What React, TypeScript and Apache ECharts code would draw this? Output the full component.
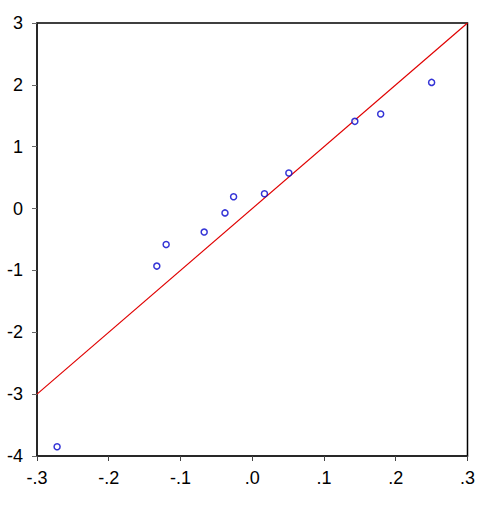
import React, { useEffect, useRef } from "react";
import * as echarts from "echarts";

const xValues = [-0.272, -0.133, -0.12, -0.067, -0.038, -0.026, 0.017, 0.051, 0.143, 0.179, 0.25];
const yValues = [-3.85, -0.93, -0.58, -0.38, -0.07, 0.19, 0.24, 0.575, 1.41, 1.53, 2.04];
const refLine = [[-0.3, -3], [0.3, 3]];

const fmtX = (v: number) => {
  const r = Math.round(v * 10);
  if (r === 0) return ".0";
  return (r < 0 ? "-" : "") + "." + Math.abs(r);
};

export default function App() {
  const ref = useRef<HTMLDivElement>(null);
  useEffect(() => {
    const chart = echarts.init(ref.current!, null, { renderer: "svg" });
    chart.setOption({
      animation: false,
      backgroundColor: "#fff",
      grid: {
        left: 37,
        top: 23,
        right: 8,
        bottom: 54,
        show: true,
        borderColor: "#000",
        borderWidth: 1.5,
      },
      xAxis: {
        type: "value",
        min: -0.3,
        max: 0.3,
        interval: 0.1,
        splitLine: { show: false },
        axisLine: { show: true, onZero: false, lineStyle: { color: "#222", width: 1.5 } },
        axisTick: { show: true, inside: false, length: 5, lineStyle: { color: "#444" } },
        axisLabel: {
          formatter: fmtX,
          color: "#000",
          fontFamily: "Liberation Sans, Arial, sans-serif",
          fontSize: 18,
          margin: 13,
        },
      },
      yAxis: {
        type: "value",
        min: -4,
        max: 3,
        interval: 1,
        splitLine: { show: false },
        axisLine: { show: true, onZero: false, lineStyle: { color: "#222", width: 1.5 } },
        axisTick: { show: true, inside: false, length: 5, lineStyle: { color: "#666" } },
        axisLabel: {
          color: "#000",
          fontFamily: "Liberation Sans, Arial, sans-serif",
          fontSize: 18,
          margin: 14,
        },
      },
      series: [
        {
          type: "line",
          data: refLine,
          symbol: "none",
          lineStyle: { color: "#e00000", width: 1.2 },
          z: 1,
        },
        {
          type: "scatter",
          data: xValues.map((x, i) => [x, yValues[i]]),
          symbol: "circle",
          symbolSize: 6,
          itemStyle: { color: "#fff", borderColor: "#0000cc", borderWidth: 1.5 },
          z: 2,
        },
      ],
    });
    return () => chart.dispose();
  }, []);
  return (
    <div
      ref={ref}
      style={{ position: "absolute", left: 0, top: 0, width: 478, height: 510 }}
    />
  );
}
